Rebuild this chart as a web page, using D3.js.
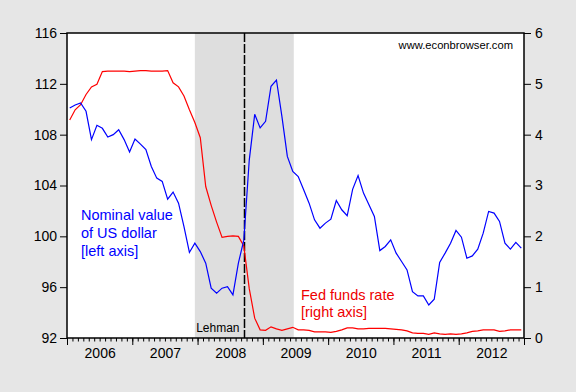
<!DOCTYPE html>
<html>
<head>
<meta charset="utf-8">
<script src="https://cdn.jsdelivr.net/npm/d3@7"></script>
<style>
body { margin: 0; background: #e6e6e6; }
text { font-family: "Liberation Sans", Arial, sans-serif; }
</style>
</head>
<body>
<div id="chart-area"></div>
<script>
// monthly data, Jan 2006 - Dec 2012
let years = ["2006", "2007", "2008", "2009", "2010", "2011", "2012"];

// nominal trade-weighted value of US dollar (left axis)
let dollar = [
    110.10, 110.34, 110.50, 109.84, 107.61, 108.74, 108.50, 107.82, 108.00, 108.39, 107.61, 106.63,
    107.66, 107.26, 106.82, 105.50, 104.58, 104.32, 102.93, 103.48, 102.61, 100.77, 98.73, 99.46,
    98.80, 97.89, 95.92, 95.52, 95.92, 96.04, 95.39, 97.89, 99.70, 106.00, 109.60, 108.53,
    109.05, 111.81, 112.30, 109.44, 106.29, 105.11, 104.71, 103.66, 102.61, 101.30, 100.64, 101.04,
    101.35, 102.82, 102.09, 101.62, 103.70, 104.79, 103.40, 102.48, 101.56, 98.88, 99.20, 99.72,
    98.68, 98.02, 97.36, 95.65, 95.31, 95.31, 94.60, 95.05, 97.94, 98.68, 99.46, 100.46,
    99.93, 98.28, 98.46, 98.99, 100.25, 101.96, 101.83, 101.17, 99.46, 98.99, 99.52, 99.07
];

// effective fed funds rate (right axis)
let fedFunds = [
    4.29, 4.49, 4.59, 4.79, 4.94, 4.99, 5.24, 5.25, 5.25, 5.25, 5.25, 5.24,
    5.25, 5.26, 5.26, 5.25, 5.25, 5.25, 5.26, 5.02, 4.94, 4.76, 4.49, 4.24,
    3.94, 2.98, 2.61, 2.28, 1.98, 2.00, 2.01, 2.00, 1.81, 0.97, 0.39, 0.16,
    0.15, 0.22, 0.18, 0.15, 0.18, 0.21, 0.16, 0.16, 0.15, 0.12, 0.12, 0.12,
    0.11, 0.13, 0.16, 0.20, 0.20, 0.18, 0.18, 0.19, 0.19, 0.19, 0.19, 0.18,
    0.17, 0.16, 0.14, 0.10, 0.09, 0.09, 0.07, 0.10, 0.08, 0.07, 0.08, 0.07,
    0.08, 0.10, 0.13, 0.14, 0.16, 0.16, 0.16, 0.13, 0.14, 0.16, 0.16, 0.16
];

let leftTicks = [92, 96, 100, 104, 108, 112, 116];
let rightTicks = [0, 1, 2, 3, 4, 5, 6];

let recession = ["2007-12", "2009-06"];
let lehman = "2008-09";

function monthIndex(s) {
    let p = s.split("-");
    return (+p[0] - 2006) * 12 + (+p[1] - 1);
}

let margin = { left: 67, right: 52, top: 33, bottom: 54 };
let width = 576 - margin.left - margin.right,
    height = 392 - margin.top - margin.bottom;

let svg = d3.select("#chart-area")
    .append("svg")
    .attr("width", 576)
    .attr("height", 392);

let g = svg.append("g")
    .attr("transform", "translate(" + margin.left + ", " + margin.top + ")");

// scales
let x = d3.scaleLinear().domain([0, years.length * 12]).range([0, width]);
let yL = d3.scaleLinear().domain([92, 116]).range([height, 0]);
let yR = d3.scaleLinear().domain([0, 6]).range([height, 0]);

// plot background
g.append("rect")
    .attr("width", width)
    .attr("height", height)
    .attr("fill", "#ffffff");

// recession shading
g.append("rect")
    .attr("x", x(monthIndex(recession[0]) + 0.5))
    .attr("width", x(monthIndex(recession[1]) + 0.5) - x(monthIndex(recession[0]) + 0.5) + 1)
    .attr("y", 0)
    .attr("height", height)
    .attr("fill", "#dedede");

// Lehman line
let lx = Math.round(x(monthIndex(lehman) + 0.5)) + 0.5;
g.append("line")
    .attr("x1", lx).attr("x2", lx)
    .attr("y1", 0).attr("y2", height)
    .attr("stroke", "#000")
    .attr("stroke-width", 1.5)
    .attr("stroke-dasharray", "9,2");

g.append("text")
    .attr("x", lx - 5)
    .attr("y", height - 6)
    .attr("font-size", "12px")
    .attr("text-anchor", "end")
    .text("Lehman");

// lines
let dollarLine = d3.line()
    .x(function(d, i) { return x(i + 0.5); })
    .y(function(d) { return yL(d); });

let fedLine = d3.line()
    .x(function(d, i) { return x(i + 0.5); })
    .y(function(d) { return yR(d); });

g.append("path")
    .datum(fedFunds)
    .attr("d", fedLine)
    .attr("fill", "none")
    .attr("stroke", "#ff0000")
    .attr("stroke-width", 1.2);

g.append("path")
    .datum(dollar)
    .attr("d", dollarLine)
    .attr("fill", "none")
    .attr("stroke", "#0000ff")
    .attr("stroke-width", 1.2);

// frame
g.append("rect")
    .attr("width", width)
    .attr("height", height)
    .attr("fill", "none")
    .attr("stroke", "#000")
    .attr("stroke-width", 1.5);

// Y axes
let yAxisL = g.append("g")
    .call(d3.axisLeft(yL).tickValues(leftTicks).tickSize(7).tickPadding(3)
        .tickFormat(d3.format("d")));
let yAxisR = g.append("g")
    .attr("transform", "translate(" + width + ",0)")
    .call(d3.axisRight(yR).tickValues(rightTicks).tickSize(7).tickPadding(4)
        .tickFormat(d3.format("d")));

// X axis: month ticks, year ticks, year labels
let xMinor = g.append("g")
    .attr("transform", "translate(0," + height + ")")
    .call(d3.axisBottom(x).tickValues(d3.range(0, 85)).tickSize(3.5).tickFormat(""));
let xMajor = g.append("g")
    .attr("transform", "translate(0," + height + ")")
    .call(d3.axisBottom(x).tickValues(d3.range(0, 85, 12)).tickSize(7).tickFormat(""));
let xLabels = g.append("g")
    .attr("transform", "translate(0," + height + ")")
    .call(d3.axisBottom(x)
        .tickValues(years.map(function(d, i) { return i * 12 + 6; }))
        .tickSize(0).tickPadding(10)
        .tickFormat(function(d) { return years[(d - 6) / 12]; }));

[yAxisL, yAxisR, xMinor, xMajor, xLabels].forEach(function(a) {
    a.select(".domain").remove();
    a.selectAll("text").attr("font-size", "14px").attr("fill", "#000")
        .attr("font-family", "Liberation Sans, Arial, sans-serif");
    a.selectAll("line").attr("stroke", "#000");
});
xLabels.selectAll("line").remove();

// annotations
g.append("text")
    .attr("x", 446)
    .attr("y", 16)
    .attr("font-size", "11.2px")
    .attr("text-anchor", "end")
    .text("www.econbrowser.com");

let blueNote = g.append("text")
    .attr("fill", "#0000ff")
    .attr("font-size", "14.5px");
["Nominal value", "of US dollar", "[left axis]"].forEach(function(t, i) {
    blueNote.append("tspan").attr("x", 14).attr("y", 187 + i * 18).text(t);
});

let redNote = g.append("text")
    .attr("fill", "#ee0000")
    .attr("font-size", "14.5px");
["Fed funds rate", "[right axis]"].forEach(function(t, i) {
    redNote.append("tspan").attr("x", 234).attr("y", 267 + i * 17).text(t);
});
</script>
</body>
</html>
